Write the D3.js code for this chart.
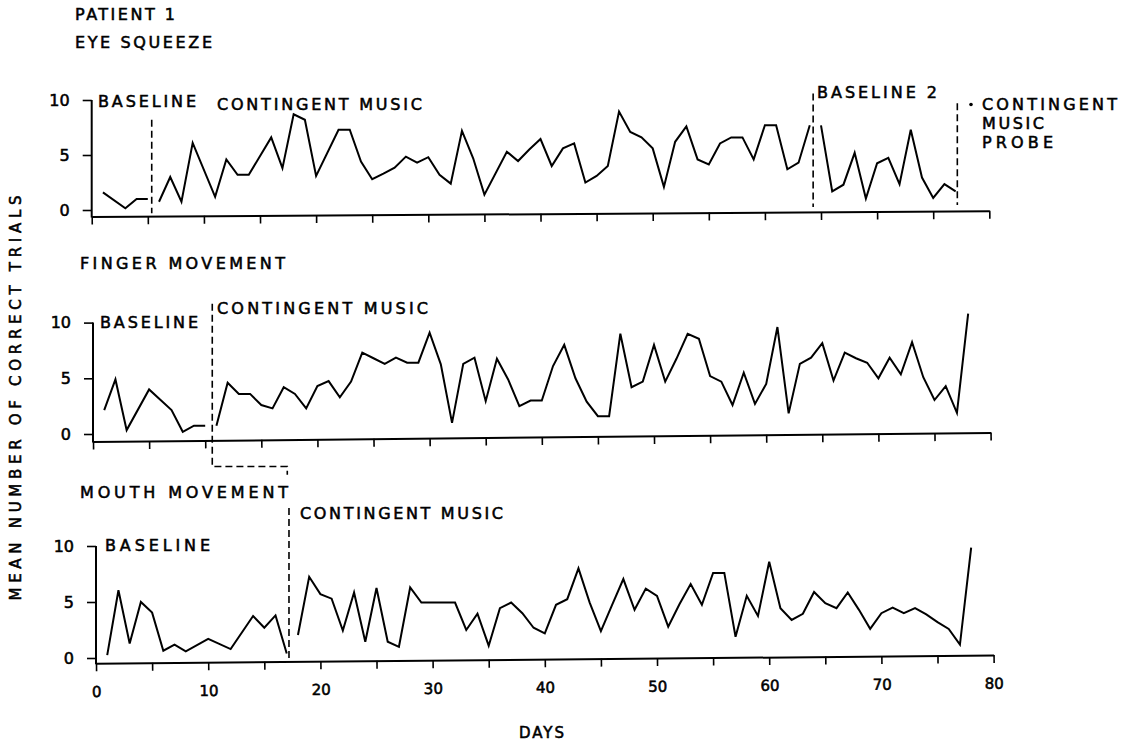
<!DOCTYPE html>
<html>
<head>
<meta charset="utf-8">
<script src="https://cdn.jsdelivr.net/npm/d3@7"></script>
<style>
  body { margin: 0; background: #fff; }
  text { font-family: "DejaVu Sans", sans-serif; fill: #000; stroke: #000; stroke-width: 0.55px; }
</style>
</head>
<body>
<svg id="chart" width="1128" height="743"></svg>
<script>
// ---- data (day, mean number of correct trials) ----
const eyeBaselineDays = [1, 3, 4, 5]
const eyeBaselineValues = [1.6, 0.15, 1.0, 1.0]
const eyeMusicDays = [6, 7, 8, 9, 11, 12, 13, 14, 16, 17, 18, 19, 20, 22, 23, 24, 25, 26, 27, 28, 29, 30, 31, 32, 33, 34, 35,
    37, 38, 39, 40, 41, 42, 43, 44, 45, 46, 47, 48, 49, 50, 51, 52, 53, 54, 55, 56, 57, 58, 59, 60, 61, 62, 63, 64]
const eyeMusicValues = [0.75, 3.0, 0.75, 6.1, 1.2, 4.6, 3.2, 3.2, 6.6, 3.8, 8.7, 8.2, 3.1, 7.3, 7.3, 4.4, 2.8, 3.3, 3.85, 4.85, 4.3, 4.8, 3.2, 2.4, 7.2, 4.7, 1.4,
    5.3, 4.45, 5.5, 6.45, 4.0, 5.6, 6.05, 2.5, 3.1, 4.0, 8.95, 7.1, 6.6, 5.6, 2.1, 6.2, 7.6, 4.6, 4.15, 6.05, 6.6, 6.6, 4.6, 7.7, 7.7, 3.7, 4.3, 7.7]
const eyeBaseline2Days = [65, 66, 67, 68, 69, 70, 71, 72, 73, 74, 75, 76, 77]
const eyeBaseline2Values = [7.7, 1.7, 2.3, 5.2, 1.05, 4.25, 4.75, 2.35, 7.3, 2.95, 1.1, 2.35, 1.7]
const eyePhaseDays = [5.35, 64.3, 77.15]

const fingerBaselineDays = [1, 2, 3, 5, 7, 8, 9, 10]
const fingerBaselineValues = [2.15, 4.9, 0.35, 4.0, 2.15, 0.2, 0.75, 0.75]
const fingerMusicDays = d3.range(11, 79)
const fingerMusicValues = [0.75, 4.6, 3.6, 3.6, 2.6, 2.3, 4.2, 3.6, 2.3, 4.3, 4.75, 3.3, 4.7, 7.3, 6.8, 6.3, 6.85, 6.4, 6.4, 9.1,
    6.25, 1.0, 6.3, 6.85, 2.95, 6.75, 4.9, 2.5, 3.0, 3.0, 6.1, 8.0, 5.0, 2.9, 1.6, 1.6, 9.0, 4.2, 4.7, 8.0,
    4.7, 6.75, 9.0, 8.55, 5.2, 4.7, 2.6, 5.5, 2.7, 4.5, 9.6, 1.85, 6.3, 6.85, 8.15, 4.8, 7.3, 6.8, 6.4, 5.0,
    6.85, 5.35, 8.25, 5.1, 3.05, 4.3, 1.9, 10.8]
const fingerPhaseDays = [10.63]

const mouthBaselineDays = [1, 2, 3, 4, 5, 6, 7, 8, 10, 12, 14, 15, 16, 17]
const mouthBaselineValues = [0.25, 6.05, 1.3, 5.0, 4.05, 0.65, 1.2, 0.6, 1.7, 0.8, 3.75, 2.7, 3.8, 0.4]
const mouthMusicDays = [18, 19, 20, 21, 22, 23, 24, 25, 26, 27, 28, 29, 32, 33, 34, 35, 36, 37, 38, 39, 40,
    41, 42, 43, 44, 45, 46, 47, 48, 49, 50, 51, 52, 53, 54, 55, 56, 57, 58, 59, 60,
    61, 62, 63, 64, 65, 66, 67, 68, 69, 70, 71, 72, 73, 74, 75, 76, 77, 78]
const mouthMusicValues = [2.05, 7.25, 5.7, 5.3, 2.45, 5.85, 1.45, 6.25, 1.45, 1.0, 6.3, 4.95, 4.95, 2.5, 3.95, 1.1, 4.45, 4.95, 4.0, 2.7, 2.2,
    4.75, 5.25, 8.0, 4.95, 2.4, 4.75, 7.05, 4.3, 6.2, 5.55, 2.8, 4.8, 6.6, 4.75, 7.6, 7.6, 1.9, 5.55, 3.75, 8.6,
    4.45, 3.4, 3.95, 5.9, 4.9, 4.45, 5.85, 4.3, 2.6, 4.0, 4.5, 4.0, 4.45, 3.9, 3.2, 2.6, 1.2, 9.85]
const mouthPhaseDays = [17.2]

const dayTicks = d3.range(0, 81, 5)
const yTicks = [0, 5, 10]

const svg = d3.select("#chart")
const PX_PER_DAY = 11.22

// places a capitals label so its cap centre sits on cy, stretched to the measured width
function label(txt, x, cy, width, size) {
    size = size || 16
    return svg.append("text")
        .attr("x", x)
        .attr("y", cy + size * 0.36)
        .attr("textLength", width)
        .attr("lengthAdjust", "spacing")
        .style("font-size", size + "px")
        .text(txt)
}

function dashed(points) {
    svg.append("path")
        .attr("d", d3.line()(points))
        .attr("fill", "none")
        .attr("stroke", "#000")
        .attr("stroke-width", 1.6)
        .attr("stroke-dasharray", "7,4")
}

// draws one panel (axes + its series), returns the scales
function drawPanel(p) {
    const x = d3.scaleLinear().domain([0, 80]).range([p.x0, p.x0 + 80 * PX_PER_DAY])
    const y = d3.scaleLinear().domain([0, 10]).range([p.y0, p.yTop])
    const axisY = p.y0 + p.gap

    // x axis, slightly tilted like the scanned original
    const xAxis = d3.axisBottom(x)
        .tickValues(dayTicks)
        .tickSize(8)
        .tickSizeOuter(0)
        .tickPadding(15)
        .tickFormat(d => (p.labels && d % 10 === 0) ? d : "")
    const gx = svg.append("g")
        .attr("transform", `rotate(${-p.tilt},${p.x0},${axisY}) translate(0,${axisY})`)
        .call(xAxis)
    gx.select(".domain").attr("stroke-width", 2)
    gx.selectAll(".tick line").attr("stroke-width", 1.6)
    gx.selectAll(".tick text").style("font-size", "15px").style("font-family", "'DejaVu Sans', sans-serif")

    // y axis
    const yAxis = d3.axisLeft(y).tickValues(yTicks).tickSize(9).tickSizeOuter(0).tickPadding(13)
    const gy = svg.append("g").attr("transform", `translate(${p.x0},0)`).call(yAxis)
    gy.select(".domain").remove()
    gy.selectAll(".tick line").attr("stroke-width", 1.6)
    gy.selectAll(".tick text").style("font-size", "16px").style("font-family", "'DejaVu Sans', sans-serif")
    svg.append("line")
        .attr("x1", p.x0).attr("x2", p.x0)
        .attr("y1", y(10)).attr("y2", axisY + 1)
        .attr("stroke", "#000").attr("stroke-width", 2)

    const line = d3.line().x(d => x(d[0])).y(d => y(d[1]))
    p.series.forEach(s => {
        svg.append("path")
            .datum(d3.zip(s[0], s[1]))
            .attr("d", line)
            .attr("fill", "none")
            .attr("stroke", "#000")
            .attr("stroke-width", 2)
            .attr("stroke-linejoin", "miter")
    })
    return { x: x, y: y }
}

const eye = drawPanel({ x0: 91.7, y0: 210, yTop: 100, gap: 6.5, tilt: 0.36, labels: false,
    series: [[eyeBaselineDays, eyeBaselineValues], [eyeMusicDays, eyeMusicValues], [eyeBaseline2Days, eyeBaseline2Values]] })
const finger = drawPanel({ x0: 93, y0: 434, yTop: 322.6, gap: 7.5, tilt: 0.57, labels: false,
    series: [[fingerBaselineDays, fingerBaselineValues], [fingerMusicDays, fingerMusicValues]] })
const mouth = drawPanel({ x0: 96, y0: 658, yTop: 546, gap: 5.3, tilt: 0.53, labels: true,
    series: [[mouthBaselineDays, mouthBaselineValues], [mouthMusicDays, mouthMusicValues]] })

// phase change lines
dashed([[eye.x(eyePhaseDays[0]), eye.y(8.2)], [eye.x(eyePhaseDays[0]), eye.y(-0.3)]])
dashed([[eye.x(eyePhaseDays[1]), eye.y(10.6)], [eye.x(eyePhaseDays[1]), eye.y(0.27)]])
dashed([[eye.x(eyePhaseDays[2]), eye.y(9.7)], [eye.x(eyePhaseDays[2]), eye.y(0.45)]])
// finger line steps over to where the mouth phase begins
dashed([[finger.x(fingerPhaseDays[0]), finger.y(11.7)], [finger.x(fingerPhaseDays[0]), finger.y(-2.92)],
    [mouth.x(mouthPhaseDays[0]) - 1.7, finger.y(-2.92)], [mouth.x(mouthPhaseDays[0]) - 1.7, finger.y(-3.66)]])
dashed([[mouth.x(mouthPhaseDays[0]), mouth.y(13.4)], [mouth.x(mouthPhaseDays[0]), mouth.y(-0.36)]])

// titles and phase labels
label("PATIENT 1", 75, 14, 100, 16)
label("EYE SQUEEZE", 75, 42.5, 137, 16)
label("BASELINE", 98, 101, 98)
label("CONTINGENT MUSIC", 217, 104, 205)
label("BASELINE 2", 817, 92, 120)
label("CONTINGENT", 982, 104, 135)
label("MUSIC", 982, 123, 62)
label("PROBE", 982, 142.5, 71)
svg.append("circle").attr("cx", 971).attr("cy", 104.5).attr("r", 1.8).attr("fill", "#000")

label("FINGER MOVEMENT", 80, 263, 205)
label("BASELINE", 100, 322, 98)
label("CONTINGENT MUSIC", 217, 308, 211)

label("MOUTH MOVEMENT", 80, 492.5, 208)
label("BASELINE", 105, 545, 105)
label("CONTINGENT MUSIC", 300, 513, 203)

label("DAYS", 519, 733, 45, 15)

svg.append("text")
    .attr("transform", "translate(21,398) rotate(-90)")
    .attr("text-anchor", "middle")
    .attr("textLength", 405)
    .attr("lengthAdjust", "spacing")
    .style("font-size", "15px")
    .text("MEAN NUMBER OF CORRECT TRIALS")
</script>
</body>
</html>
